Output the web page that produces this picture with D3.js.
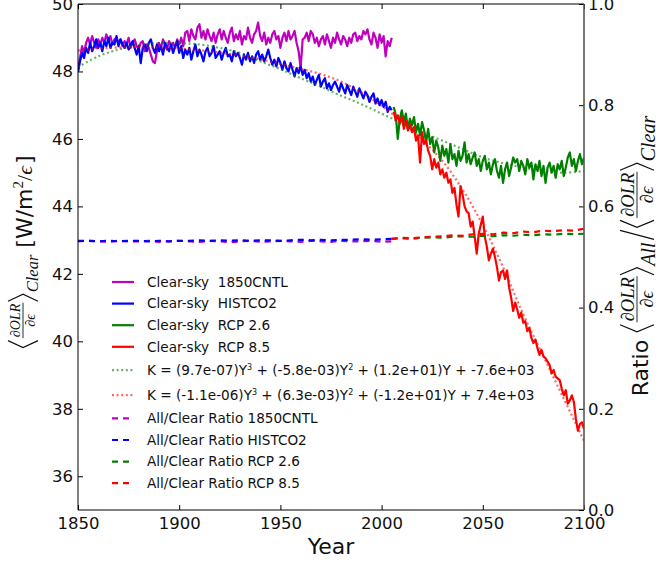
<!DOCTYPE html>
<html>
<head>
<meta charset="utf-8">
<script src="https://cdn.jsdelivr.net/npm/d3@7"></script>
<style>
  body { margin: 0; background: #fff; }
  svg { display: block; font-family: "DejaVu Sans", sans-serif; }
</style>
</head>
<body>
<svg id="chart" width="659" height="563"></svg>
<script>
// ---- data ----
const histYears = d3.range(1850, 2006);
const rcpYears = d3.range(2006, 2101);

const cntl1850 = [
  48.00, 48.40, 48.75, 48.55, 48.85, 49.00, 48.80, 49.05, 48.85, 48.70,
  48.95, 48.80, 49.00, 48.85, 49.10, 48.90, 49.05, 48.80, 48.95, 49.00,
  48.85, 48.95, 48.75, 48.90, 48.80, 49.00, 48.70, 48.85, 48.95, 48.75,
  48.65, 48.85, 48.90, 48.60, 48.80, 48.70, 48.50, 48.30, 48.25, 48.60,
  48.85, 48.70, 48.95, 48.80, 48.65, 48.90, 48.75, 48.85, 48.70, 48.95,
  48.80, 49.00, 48.75, 49.15, 49.20, 48.90, 49.25, 49.05, 48.95, 49.30,
  49.40, 49.00, 49.20, 48.95, 49.25, 49.05, 48.90, 49.15, 48.85, 49.10,
  49.25, 48.95, 49.20, 49.00, 48.85, 49.15, 49.30, 48.90, 49.10, 48.95,
  49.20, 48.80, 49.05, 48.95, 49.30, 49.00, 48.85, 49.10, 49.20, 49.45,
  49.05, 48.90, 49.15, 48.80, 49.00, 48.85, 49.10, 49.20, 48.95, 49.05,
  48.70, 49.00, 49.15, 48.90, 49.20, 48.95, 49.05, 49.20, 48.85, 48.60,
  48.10, 48.95, 49.00, 49.15, 48.90, 49.20, 49.10, 48.85, 49.00, 48.75,
  48.95, 49.05, 48.80, 49.10, 48.90, 48.70, 49.00, 48.85, 49.15, 48.95,
  48.80, 49.05, 48.95, 48.75, 49.00, 48.85, 49.10, 49.15, 48.90, 49.05,
  48.95, 49.20, 49.10, 49.25, 48.95, 48.80, 49.15, 49.00, 48.70, 49.10,
  48.85, 49.05, 48.45, 48.90, 48.75, 49.00
];

const histco2 = [
  48.00, 48.30, 48.55, 48.40, 48.70, 48.55, 48.85, 48.60, 48.75, 48.95,
  48.70, 48.85, 48.60, 48.90, 48.75, 49.00, 48.70, 48.85, 48.80, 49.05,
  48.75, 48.95, 48.80, 48.70, 48.85, 48.65, 48.80, 48.90, 48.70, 48.50,
  48.75, 48.25, 48.70, 48.80, 48.60, 48.85, 48.95, 48.70, 48.55, 48.80,
  48.60, 48.75, 48.50, 48.85, 48.70, 48.60, 48.80, 48.55, 48.75, 48.90,
  48.55, 48.75, 48.40, 48.65, 48.50, 48.70, 48.35, 48.60, 48.80, 48.45,
  48.65, 48.50, 48.30, 48.60, 48.70, 48.45, 48.55, 48.75, 48.40, 48.50,
  48.60, 48.35, 48.55, 48.70, 48.45, 48.50, 48.30, 48.60, 48.45, 48.55,
  48.40, 48.20, 48.50, 48.35, 48.55, 48.30, 48.45, 48.25, 48.50, 48.60,
  48.35, 48.50, 48.30, 48.45, 48.65, 48.40, 48.20, 48.35, 48.15, 48.40,
  48.25, 48.05, 48.30, 48.10, 48.00, 48.25, 48.05, 47.85, 48.10, 47.95,
  48.15, 47.90, 48.05, 47.80, 47.95, 47.70, 47.85, 47.60, 47.75, 47.90,
  47.55, 47.70, 47.80, 47.50, 47.65, 47.45, 47.60, 47.70, 47.55, 47.40,
  47.65, 47.50, 47.35, 47.60, 47.45, 47.30, 47.55, 47.40, 47.25, 47.50,
  47.35, 47.20, 47.40, 47.30, 47.10, 47.25, 47.35, 47.05, 47.20, 47.00,
  47.15, 46.95, 47.10, 46.80, 46.95, 46.85
];

const rcp26 = [
  46.95, 46.70, 46.00, 46.60, 46.85, 46.50, 46.75, 46.30, 46.60, 46.40,
  46.65, 46.20, 46.45, 46.10, 46.50, 46.25, 45.90, 46.30, 45.85, 46.05,
  45.60, 45.95, 45.75, 45.35, 45.80, 45.50, 45.70, 45.30, 45.85, 45.40,
  45.55, 45.20, 45.65, 45.35, 45.50, 45.90, 45.30, 45.55, 45.25, 45.45,
  45.60, 45.20, 45.40, 45.05, 45.35, 45.50, 45.10, 45.30, 44.95, 45.25,
  45.40, 45.05, 44.85, 45.20, 44.70, 45.10, 45.30, 44.90, 45.15, 45.45,
  45.30, 45.40, 45.05, 45.35, 45.20, 44.95, 45.40, 45.15, 45.30, 44.80,
  45.25, 45.05, 45.35, 44.90, 45.20, 44.70, 45.15, 45.30, 45.00, 45.20,
  44.85, 45.25, 45.10, 45.35, 44.90, 45.15, 45.45, 45.60, 45.20, 45.40,
  45.05, 45.35, 45.55, 45.25, 45.45
];

const rcp85 = [
  46.80, 46.55, 46.70, 46.45, 46.65, 46.30, 46.55, 46.25, 46.45, 46.20,
  46.35, 45.95, 46.10, 45.30, 46.20, 45.85, 45.95, 45.65, 45.50, 45.10,
  45.40, 45.15, 45.30, 44.95, 45.10, 44.85, 45.00, 44.70, 44.80, 44.40,
  44.55, 44.05, 43.70, 44.60, 44.35, 44.00, 43.85, 43.80, 43.40, 43.55,
  43.10, 42.60, 43.20, 43.45, 43.70, 43.10, 42.80, 42.40, 42.60, 42.75,
  42.50, 42.20, 41.80, 42.05, 42.10, 41.85, 42.10, 41.60, 41.30, 40.90,
  41.15, 40.95, 40.70, 40.85, 40.55, 40.60, 40.30, 40.40, 40.10, 39.95,
  40.05, 39.80, 39.60, 39.75, 39.55, 39.50, 39.40, 39.30, 39.05, 39.15,
  38.95, 38.90, 38.85, 38.60, 38.40, 38.55, 38.15, 38.25, 38.40, 38.20,
  37.70, 37.35, 37.55, 37.60, 37.40
];

// cubic fits, read every 10 years
const fitYears = d3.range(1850, 2101, 10);
const fit26 = [48.13, 48.45, 48.65, 48.78, 48.84, 48.84, 48.80, 48.70, 48.55, 48.30,
  48.07, 47.80, 47.55, 47.28, 47.03, 46.75, 46.47, 46.20, 45.95, 45.70,
  45.45, 45.28, 45.15, 45.05, 45.00, 45.05];
const fit85 = [48.62, 48.68, 48.71, 48.72, 48.71, 48.68, 48.63, 48.56, 48.47, 48.36,
  48.22, 48.08, 47.92, 47.70, 47.38, 46.98, 46.52, 45.98, 45.35, 44.50,
  43.45, 42.20, 40.80, 39.55, 38.30, 37.05];

// All/Clear ratios, read every 5 years
const ratioHistYears = d3.range(1850, 2006, 5);
const ratioRcpYears = d3.range(2005, 2101, 5);
const ratio1850 = [0.531, 0.532, 0.531, 0.530, 0.532, 0.531, 0.531, 0.532, 0.530, 0.531,
  0.532, 0.531, 0.530, 0.532, 0.531, 0.529, 0.531, 0.532, 0.530, 0.531,
  0.532, 0.531, 0.530, 0.532, 0.531, 0.530, 0.532, 0.531, 0.531, 0.532, 0.530, 0.531];
const ratioHist = [0.532, 0.532, 0.531, 0.532, 0.531, 0.532, 0.532, 0.531, 0.532, 0.531,
  0.532, 0.532, 0.533, 0.532, 0.533, 0.532, 0.533, 0.532, 0.533, 0.533,
  0.532, 0.533, 0.534, 0.533, 0.534, 0.533, 0.534, 0.534, 0.535, 0.534, 0.535, 0.536];
const ratio26 = [0.536, 0.537, 0.536, 0.538, 0.539, 0.538, 0.540, 0.541, 0.540, 0.542,
  0.541, 0.543, 0.542, 0.544, 0.543, 0.545, 0.544, 0.546, 0.545, 0.546];
const ratio85 = [0.536, 0.538, 0.537, 0.539, 0.540, 0.541, 0.543, 0.542, 0.545, 0.546,
  0.545, 0.548, 0.547, 0.550, 0.549, 0.552, 0.551, 0.553, 0.552, 0.556];

const xTicks = [1850, 1900, 1950, 2000, 2050, 2100];
const yTicks = [36, 38, 40, 42, 44, 46, 48, 50];
const y2Ticks = [0, 0.2, 0.4, 0.6, 0.8, 1.0];

const legendLabels = [
  "Clear-sky  1850CNTL",
  "Clear-sky  HISTCO2",
  "Clear-sky  RCP 2.6",
  "Clear-sky  RCP 8.5",
  "K = (9.7e-07)Y^3 + (-5.8e-03)Y^2 + (1.2e+01)Y + -7.6e+03",
  "K = (-1.1e-06)Y^3 + (6.3e-03)Y^2 + (-1.2e+01)Y + 7.4e+03",
  "All/Clear Ratio 1850CNTL",
  "All/Clear Ratio HISTCO2",
  "All/Clear Ratio RCP 2.6",
  "All/Clear Ratio RCP 8.5"
];

// ---- layout ----
const svg = d3.select("#chart");
const x = d3.scaleLinear().domain([1850, 2100]).range([78, 584]);
const y = d3.scaleLinear().domain([35, 50]).range([510, 4]);
const y2 = d3.scaleLinear().domain([0, 1]).range([510, 4]);

const colors = { m: "#bf00bf", b: "#0000ff", g: "#008000", r: "#ff0000" };
const styles = {
  solid: { dash: null, width: 2.2, opacity: 1 },
  dot: { dash: "2,2.6", width: 2.2, opacity: 0.6 },
  dash: { dash: "6,5", width: 2.2, opacity: 1 }
};

svg.append("rect").attr("width", 659).attr("height", 563).attr("fill", "#fff");

svg.append("defs").append("clipPath").attr("id", "clip")
  .append("rect").attr("x", 78).attr("y", 4).attr("width", 506).attr("height", 506);

const plot = svg.append("g").attr("clip-path", "url(#clip)");

function drawLine(xs, vals, yScale, color, style, curve) {
  const line = d3.line()
    .x((d, i) => x(xs[i]))
    .y(d => yScale(d));
  if (curve) line.curve(curve);
  plot.append("path")
    .datum(vals)
    .attr("fill", "none")
    .attr("stroke", color)
    .attr("stroke-width", styles[style].width)
    .attr("stroke-opacity", styles[style].opacity)
    .attr("stroke-dasharray", styles[style].dash)
    .attr("stroke-linejoin", "round")
    .attr("d", line);
}

drawLine(histYears, cntl1850, y, colors.m, "solid");
drawLine(histYears, histco2, y, colors.b, "solid");
drawLine(rcpYears, rcp26, y, colors.g, "solid");
drawLine(rcpYears, rcp85, y, colors.r, "solid");
drawLine(fitYears, fit26, y, colors.g, "dot", d3.curveCatmullRom);
drawLine(fitYears, fit85, y, colors.r, "dot", d3.curveCatmullRom);
drawLine(ratioHistYears, ratio1850, y2, colors.m, "dash");
drawLine(ratioHistYears, ratioHist, y2, colors.b, "dash");
drawLine(ratioRcpYears, ratio26, y2, colors.g, "dash");
drawLine(ratioRcpYears, ratio85, y2, colors.r, "dash");

// ---- axes ----
const tickFont = "16.5px";
function styleAxis(g) {
  g.select(".domain").remove();
  g.selectAll(".tick line").attr("stroke", "#000");
  g.selectAll(".tick text").attr("fill", "#111").style("font-size", tickFont)
    .style("font-family", "DejaVu Sans");
}

svg.append("g").attr("transform", "translate(0,510)")
  .call(d3.axisBottom(x).tickValues(xTicks).tickFormat(d3.format("d"))
    .tickSizeInner(-5).tickSizeOuter(0).tickPadding(7))
  .call(styleAxis);
svg.append("g").attr("transform", "translate(0,4)")
  .call(d3.axisTop(x).tickValues(xTicks).tickFormat("")
    .tickSizeInner(-5).tickSizeOuter(0))
  .call(styleAxis);
svg.append("g").attr("transform", "translate(78,0)")
  .call(d3.axisLeft(y).tickValues(yTicks).tickFormat(d3.format("d"))
    .tickSizeInner(-5).tickSizeOuter(0).tickPadding(5))
  .call(styleAxis);
svg.append("g").attr("transform", "translate(584,0)")
  .call(d3.axisRight(y2).tickValues(y2Ticks).tickFormat(d3.format(".1f"))
    .tickSizeInner(-5).tickSizeOuter(0).tickPadding(4))
  .call(styleAxis);

// frame
svg.append("line").attr("x1", 78).attr("x2", 78).attr("y1", 4).attr("y2", 510).attr("stroke", "#000");
svg.append("line").attr("x1", 78).attr("x2", 584).attr("y1", 510).attr("y2", 510).attr("stroke", "#000");
svg.append("line").attr("x1", 78).attr("x2", 584).attr("y1", 4).attr("y2", 4).attr("stroke", "#000");
svg.append("line").attr("x1", 584).attr("x2", 584).attr("y1", 4).attr("y2", 510)
  .attr("stroke", "#555").attr("stroke-width", 1.6);

svg.append("text").attr("x", 331).attr("y", 554).attr("text-anchor", "middle")
  .style("font-size", "22px").attr("fill", "#111").text("Year");

// ---- math style axis labels ----
const serif = "'Liberation Serif', 'DejaVu Serif', serif";
function mathLabel(bx, cy, fs, pieces) {
  const g = svg.append("g");
  let pos = 0;
  const h = fs.bracket;
  pieces.forEach(p => {
    if (p.t === "text") {
      const t = g.append("text").attr("x", pos).attr("y", p.dy || 0)
        .style("font-size", p.size + "px")
        .style("font-family", p.family || "DejaVu Sans")
        .style("font-style", p.italic ? "italic" : "normal")
        .attr("fill", "#111").text(p.s);
      pos += t.node().getComputedTextLength() + (p.after || 0);
    } else if (p.t === "gap") {
      pos += p.w;
    } else if (p.t === "open" || p.t === "close") {
      const x0 = p.t === "open" ? pos + 8 : pos + 1;
      const x1 = p.t === "open" ? pos + 1 : pos + 8;
      g.append("path").attr("d", `M${x0},${-h + 6}L${x1},${-h / 2 + 6}L${x0},6`)
        .attr("fill", "none").attr("stroke", "#111").attr("stroke-width", 1.2);
      pos += 10;
    } else if (p.t === "slash") {
      g.append("path").attr("d", `M${pos + 1},6L${pos + 10},${-h + 6}`)
        .attr("fill", "none").attr("stroke", "#111").attr("stroke-width", 1.2);
      pos += 12;
    } else if (p.t === "frac") {
      const axisY = -h / 2 + 6;
      const num = g.append("text").style("font-size", fs.frac + "px").style("font-family", serif)
        .style("font-style", "italic").attr("text-anchor", "middle").attr("fill", "#111").text(p.num);
      const den = g.append("text").style("font-size", fs.frac + "px").style("font-family", serif)
        .style("font-style", "italic").attr("text-anchor", "middle").attr("fill", "#111").text(p.den);
      const w = Math.max(num.node().getComputedTextLength(), den.node().getComputedTextLength()) + 3;
      num.attr("x", pos + w / 2).attr("y", axisY - 3);
      den.attr("x", pos + w / 2).attr("y", axisY + fs.frac * 0.85);
      g.append("line").attr("x1", pos + 0.5).attr("x2", pos + w - 0.5)
        .attr("y1", axisY).attr("y2", axisY).attr("stroke", "#111").attr("stroke-width", 0.9);
      pos += w;
    }
  });
  g.attr("transform", `translate(${bx},${cy + pos / 2}) rotate(-90)`);
}

mathLabel(32, 252, { bracket: 30, frac: 14 }, [
  { t: "open" }, { t: "frac", num: "\u2202OLR", den: "\u2202\u03f5" }, { t: "close" },
  { t: "text", s: "Clear", size: 16.5, family: serif, italic: true, dy: 6 },
  { t: "gap", w: 7 },
  { t: "text", s: "[W/m", size: 22 },
  { t: "text", s: "2", size: 15, family: serif, dy: -9 },
  { t: "text", s: "/", size: 22, family: serif },
  { t: "text", s: "\u03f5", size: 22, family: serif, italic: true, after: 2 },
  { t: "text", s: "]", size: 22 }
]);

mathLabel(648, 256, { bracket: 34, frac: 18.5 }, [
  { t: "text", s: "Ratio", size: 22, after: 7 },
  { t: "open" }, { t: "frac", num: "\u2202OLR", den: "\u2202\u03f5" }, { t: "close" },
  { t: "text", s: "All", size: 20, family: serif, italic: true, dy: 7, after: 2 },
  { t: "slash" },
  { t: "open" }, { t: "frac", num: "\u2202OLR", den: "\u2202\u03f5" }, { t: "close" },
  { t: "text", s: "Clear", size: 20, family: serif, italic: true, dy: 7 }
]);

// ---- legend ----
const legendItems = [
  { c: colors.m, s: "solid" }, { c: colors.b, s: "solid" },
  { c: colors.g, s: "solid" }, { c: colors.r, s: "solid" },
  { c: colors.g, s: "dot" }, { c: colors.r, s: "dot" },
  { c: colors.m, s: "dash" }, { c: colors.b, s: "dash" },
  { c: colors.g, s: "dash" }, { c: colors.r, s: "dash" }
];
const legend = svg.append("g");
let rowY = 282;
legendItems.forEach((it, i) => {
  if (i > 0) {
    const hPrev = legendLabels[i - 1].includes("^") ? 25 : 21.6;
    const hCur = legendLabels[i].includes("^") ? 25 : 21.6;
    rowY += (hPrev + hCur) / 2;
  }
  legend.append("line").attr("x1", 112).attr("x2", 134).attr("y1", rowY).attr("y2", rowY)
    .attr("stroke", it.c).attr("stroke-width", styles[it.s].width)
    .attr("stroke-opacity", styles[it.s].opacity)
    .attr("stroke-dasharray", styles[it.s].dash);
  const t = legend.append("text").attr("x", 147).attr("y", rowY + 4.7)
    .style("font-size", "13.6px").style("white-space", "pre").attr("fill", "#111");
  let shift = 0;
  legendLabels[i].split(/(\^\d)/).forEach(part => {
    if (part.startsWith("^")) {
      t.append("tspan").attr("dy", -5).style("font-size", "8px").text(part.slice(1));
      shift = 5;
    } else if (part) {
      t.append("tspan").attr("dy", shift).text(part);
      shift = 0;
    }
  });
});
</script>
</body>
</html>
